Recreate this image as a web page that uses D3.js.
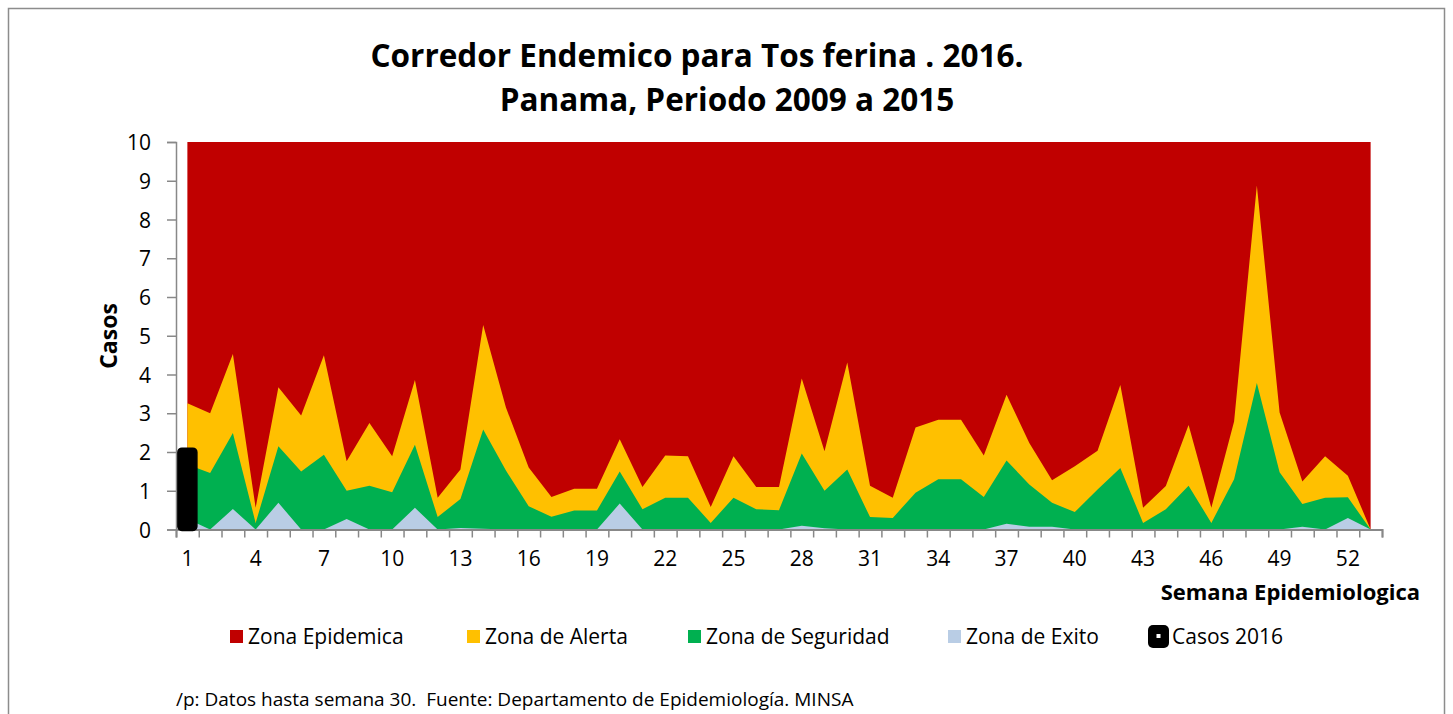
<!DOCTYPE html>
<html>
<head>
<meta charset="utf-8">
<script src="https://cdn.jsdelivr.net/npm/d3@7/dist/d3.min.js"></script>
<style>
  body { margin: 0; background: #fff; }
  svg text { font-family: 'Open Sans', Lato, sans-serif; fill: #000; }
</style>
</head>
<body>
<div id="chart"></div>
<script>
// semanas epidemiologicas
const weeks = d3.range(1, 54);
const tickWeeks = [1, 4, 7, 10, 13, 16, 19, 22, 25, 28, 31, 34, 37, 40, 43, 46, 49, 52];

// zonas del corredor endemico (limite superior de cada zona)
const epidemica = [
  10, 10, 10, 10, 10, 10, 10, 10, 10, 10,
  10, 10, 10, 10, 10, 10, 10, 10, 10, 10,
  10, 10, 10, 10, 10, 10, 10, 10, 10, 10,
  10, 10, 10, 10, 10, 10, 10, 10, 10, 10,
  10, 10, 10, 10, 10, 10, 10, 10, 10, 10,
  10, 10, 10
];
const alerta = [
  3.26, 3.0, 4.53, 0.56, 3.67, 2.94, 4.5, 1.76, 2.75, 1.89,
  3.86, 0.82, 1.55, 5.28, 3.15, 1.6, 0.84, 1.05, 1.05, 2.33,
  1.1, 1.91, 1.89, 0.58, 1.89, 1.1, 1.1, 3.9, 2.02, 4.31,
  1.13, 0.82, 2.63, 2.83, 2.83, 1.91, 3.48, 2.23, 1.27, 1.63,
  2.03, 3.73, 0.56, 1.12, 2.7, 0.56, 2.79, 8.88, 3.02, 1.24,
  1.89, 1.39, 0
];
const seguridad = [
  1.68, 1.46, 2.49, 0.17, 2.15, 1.5, 1.93, 1.0, 1.13, 0.96,
  2.19, 0.32, 0.79, 2.58, 1.52, 0.6, 0.33, 0.49, 0.49, 1.5,
  0.52, 0.82, 0.82, 0.17, 0.82, 0.52, 0.5, 1.96, 1.0, 1.55,
  0.32, 0.3, 0.95, 1.3, 1.3, 0.84, 1.78, 1.16, 0.69, 0.45,
  1.03, 1.59, 0.17, 0.52, 1.13, 0.17, 1.3, 3.78, 1.48, 0.66,
  0.82, 0.83, 0
];
const exito = [
  0.27, 0, 0.53, 0, 0.69, 0, 0, 0.27, 0, 0,
  0.56, 0, 0.04, 0.02, 0, 0, 0, 0, 0, 0.67,
  0, 0, 0, 0, 0, 0, 0, 0.1, 0.03, 0,
  0, 0, 0, 0, 0, 0, 0.15, 0.07, 0.07, 0,
  0, 0, 0, 0, 0, 0, 0, 0, 0, 0.07,
  0, 0.3, 0
];
// casos 2016 (datos hasta semana 30)
const casos2016 = [
  2.1, 0, 0, 0, 0, 0, 0, 0, 0, 0,
  0, 0, 0, 0, 0, 0, 0, 0, 0, 0,
  0, 0, 0, 0, 0, 0, 0, 0, 0, 0
];

const yTicks = [0, 1, 2, 3, 4, 5, 6, 7, 8, 9, 10];

const zones = [
  { name: 'Zona Epidemica', values: epidemica, color: '#C00000' },
  { name: 'Zona de Alerta', values: alerta, color: '#FFC000' },
  { name: 'Zona de Seguridad', values: seguridad, color: '#00B050' },
  { name: 'Zona de Exito', values: exito, color: '#B9CDE5' }
];

const width = 1453;
const height = 714;

const plot = { left: 176, right: 1382, top: 142, bottom: 529.5 };

const svg = d3.select('#chart')
  .append('svg')
  .attr('width', width)
  .attr('height', height);

// marco del grafico
svg.append('rect')
  .attr('x', 8.5)
  .attr('y', 8.5)
  .attr('width', 1436)
  .attr('height', 730)
  .attr('fill', '#fff')
  .attr('stroke', '#8c8c8c')
  .attr('stroke-width', 1.5);

const x = d3.scaleBand()
  .domain(weeks)
  .range([plot.left, plot.right]);

const xEdge = d3.scaleLinear()
  .domain([0, weeks.length])
  .range([plot.left, plot.right]);

const y = d3.scaleLinear()
  .domain([0, 10])
  .range([plot.bottom, plot.top]);

const cx = w => x(w) + x.bandwidth() / 2;

const area = d3.area()
  .x(d => cx(d.week))
  .y0(y(0))
  .y1(d => y(d.value));

// areas: de mayor a menor
svg.append('g')
  .selectAll('path')
  .data(zones)
  .enter()
  .append('path')
  .attr('d', z => area(weeks.map((w, i) => ({ week: w, value: z.values[i] }))))
  .attr('fill', z => z.color);

// eje y
const yAxis = svg.append('g')
  .attr('transform', `translate(${plot.left},0)`)
  .call(d3.axisLeft(y).tickValues(yTicks).tickSize(9).tickPadding(16).tickFormat(d3.format('d')));

yAxis.select('.domain').attr('stroke', '#888').attr('stroke-width', 1.5);
yAxis.selectAll('.tick line').attr('stroke', '#888').attr('stroke-width', 1.5);
yAxis.selectAll('.tick text')
  .style('font-size', '21px')
  .attr('dy', '0.36em');

// eje x: marcas en los limites de cada semana
const xMarks = svg.append('g')
  .attr('transform', `translate(0,${plot.bottom})`)
  .call(d3.axisBottom(xEdge).tickValues(d3.range(0, weeks.length + 1)).tickSize(8).tickFormat(''));

xMarks.select('.domain').attr('stroke', '#888').attr('stroke-width', 2);
xMarks.selectAll('.tick line').attr('stroke', '#888').attr('stroke-width', 1.5);

const xLabels = svg.append('g')
  .attr('transform', `translate(0,${plot.bottom})`)
  .call(d3.axisBottom(x).tickValues(tickWeeks).tickSize(0).tickPadding(22));

xLabels.select('.domain').remove();
xLabels.selectAll('.tick text').style('font-size', '21px');

// casos 2016
const barW = 19;
svg.append('g')
  .selectAll('rect')
  .data(casos2016.map((v, i) => ({ week: weeks[i], value: v })).filter(d => d.value > 0))
  .enter()
  .append('rect')
  .attr('x', d => cx(d.week) - barW / 2)
  .attr('y', d => y(d.value))
  .attr('width', barW)
  .attr('height', d => y(0) - y(d.value) + 1)
  .attr('rx', 4)
  .attr('fill', '#000')
  .attr('stroke', '#000')
  .attr('stroke-width', 1.5);

// titulos
svg.append('text')
  .attr('x', 697)
  .attr('y', 67)
  .attr('text-anchor', 'middle')
  .style('font-size', '31.5px')
  .style('font-weight', 'bold')
  .text('Corredor Endemico para Tos ferina . 2016.');

svg.append('text')
  .attr('x', 727)
  .attr('y', 111)
  .attr('text-anchor', 'middle')
  .style('font-size', '31.5px')
  .style('font-weight', 'bold')
  .text('Panama, Periodo 2009 a 2015');

svg.append('text')
  .attr('transform', 'translate(117,336) rotate(-90)')
  .attr('text-anchor', 'middle')
  .style('font-size', '23px')
  .style('font-weight', 'bold')
  .text('Casos');

svg.append('text')
  .attr('x', 1420)
  .attr('y', 600)
  .attr('text-anchor', 'end')
  .style('font-size', '22px')
  .style('font-weight', 'bold')
  .text('Semana Epidemiologica');

// leyenda
const legendItems = [
  { name: 'Zona Epidemica', color: '#C00000', x: 230 },
  { name: 'Zona de Alerta', color: '#FFC000', x: 467 },
  { name: 'Zona de Seguridad', color: '#00B050', x: 688 },
  { name: 'Zona de Exito', color: '#B9CDE5', x: 948 },
  { name: 'Casos 2016', color: '#000', x: 1148, bar: true }
];

const legend = svg.append('g').attr('class', 'legend');

const item = legend.selectAll('g')
  .data(legendItems)
  .enter()
  .append('g')
  .attr('transform', d => `translate(${d.x},636)`);

item.filter(d => !d.bar)
  .append('rect')
  .attr('x', 0)
  .attr('y', -6)
  .attr('width', 13)
  .attr('height', 13)
  .attr('fill', d => d.color);

const barItem = item.filter(d => d.bar);
barItem.append('rect')
  .attr('x', 0)
  .attr('y', -11)
  .attr('width', 21)
  .attr('height', 23)
  .attr('rx', 5)
  .attr('fill', '#000');
barItem.append('rect')
  .attr('x', 8.5)
  .attr('y', -2)
  .attr('width', 4)
  .attr('height', 4)
  .attr('fill', '#fff');

item.append('text')
  .attr('x', d => d.bar ? 24 : 18)
  .attr('y', 7.5)
  .style('font-size', '21px')
  .text(d => d.name);

// nota
svg.append('text')
  .attr('x', 176)
  .attr('y', 706)
  .style('font-size', '19px')
  .style('white-space', 'pre')
  .text('/p: Datos hasta semana 30.  Fuente: Departamento de Epidemiología. MINSA');
</script>
</body>
</html>
